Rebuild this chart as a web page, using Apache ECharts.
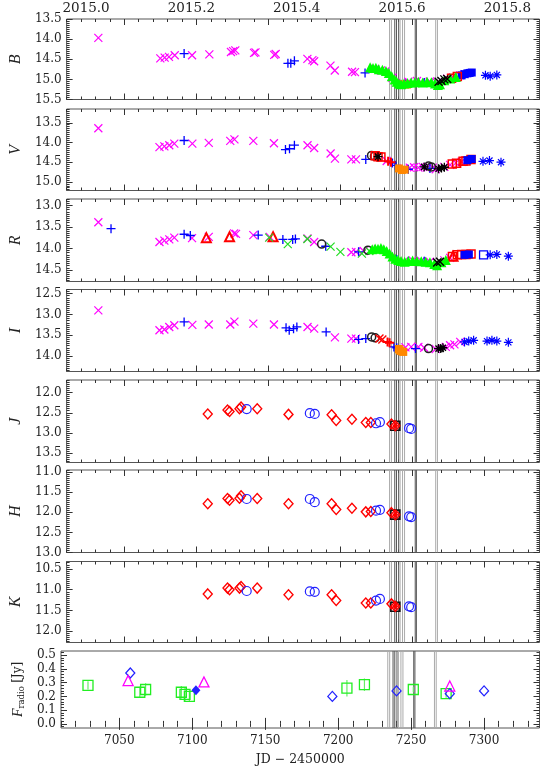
<!DOCTYPE html>
<html><head><meta charset="utf-8">
<script src="https://cdn.jsdelivr.net/npm/echarts@6/dist/echarts.min.js"></script>
<style>html,body{margin:0;padding:0;background:#fff}#c{width:545px;height:767px}</style>
</head><body><div id="c"></div>
<script>
// ---------------- tick labels ----------------
const jdTicks = [7050, 7100, 7150, 7200, 7250, 7300];
const yearTicks = [2015.0, 2015.2, 2015.4, 2015.6, 2015.8];
const bTicks = [13.5, 14.0, 14.5, 15.0, 15.5];
const vTicks = [13.5, 14.0, 14.5, 15.0];
const rTicks = [13.0, 13.5, 14.0, 14.5];
const iTicks = [12.5, 13.0, 13.5, 14.0];
const jTicks = [12.0, 12.5, 13.0, 13.5];
const hTicks = [11.0, 11.5, 12.0, 12.5, 13.0];
const kTicks = [10.5, 11.0, 11.5, 12.0];
const radioTicks = [0.0, 0.1, 0.2, 0.3, 0.4, 0.5];

// vertical marker lines: [JD, shade]  (0 = light grey, 1 = dark)
const vLines = [[7234.0,0],[7235.3,0],[7237.6,1],[7238.8,1],[7240.3,1],[7241.3,0],[7243.0,0],[7244.4,0],[7251.8,1],[7252.6,1],[7266.0,0],[7267.2,0]];

// ---------------- B ----------------
const bMagentaX = [[7032,13.97],[7075,14.48],[7078,14.46],[7081,14.44],[7085,14.40],[7097,14.40],[7109,14.38],[7124,14.32],[7125.5,14.30],[7127,14.28],[7140,14.34],[7141,14.33],[7154,14.39],[7155,14.37],[7177,14.49],[7180.5,14.52],[7181.7,14.55],[7193,14.66],[7196,14.78],[7208,14.81],[7210,14.82],
  [7224,14.74],[7228,14.78],[7231,14.80],[7236,14.96],[7243,15.08],[7247,15.06],[7253,15.04],[7256,15.07],[7262,15.05],[7267,15.09],[7274,14.98],[7278,14.95],[7283,14.90],[7286,14.87]];
const bBluePlus = [[7091.5,14.36],[7163.5,14.60],[7165.5,14.60],[7168,14.54],[7217,14.84],[7245,15.12],[7258,15.08]];
const bGreenTri = [[7220.5,14.70],[7222.5,14.72],[7224.5,14.71],[7226.5,14.75],[7229,14.76],[7231.5,14.79],[7233.5,14.84],[7235.5,14.92],[7237.5,15.00],[7239,15.06],[7240.5,15.10],[7242,15.12],[7244,15.10],[7246.5,15.09],[7249,15.08],[7251.5,15.07],[7254,15.06],[7257,15.08],[7260,15.06],[7263,15.07],[7265.5,15.10],[7267.5,15.14],[7269,15.12],[7272,15.02],[7276,14.98],[7280,14.94]];
const bBlueSq = [[7284,14.90],[7286,14.87],[7288,14.85],[7289.5,14.84],[7291,14.83]];
const bBlackX = [[7268,15.06],[7270,15.04],[7272,15.00],[7274,14.99]];
const bOrange = [[7241,15.12],[7246,15.13]];
const bRedSq = [[7277,14.97],[7281,14.93]];
const bBlueAst = [[7300.5,14.90],[7303.8,14.92],[7308.4,14.89]];

// ---------------- V ----------------
const vMagentaX = [[7032,13.64],[7074.4,14.12],[7077.8,14.10],[7081.2,14.07],[7084.7,14.03],[7097.2,14.03],[7108.6,14.01],[7123.5,13.96],[7126.4,13.92],[7139.5,13.96],[7153.8,14.02],[7177.1,14.07],[7181.7,14.14],[7193.1,14.28],[7196.1,14.41],[7207.5,14.43],[7210.7,14.43],
  [7232,14.47],[7244,14.66],[7248,14.64],[7251,14.63],[7254,14.64],[7257,14.62],[7260,14.63],[7264,14.64],[7266,14.68],[7272,14.62],[7276,14.57],[7280,14.52],[7284,14.49]];
const vBluePlus = [[7091.5,13.95],[7161.8,14.18],[7164.6,14.16],[7168,14.07],[7217.5,14.43],[7236,14.52],[7238,14.58],[7247,14.68],[7262,14.66]];
const vBlackCircle = [[7221.5,14.33],[7223.5,14.35],[7261,14.60],[7263,14.62]];
const vRedSq = [[7224,14.34],[7226,14.36],[7228,14.37],[7277.5,14.55],[7280.5,14.53],[7285,14.48],[7287,14.47],[7290.5,14.43]];
const vRedPlus = [[7233,14.48],[7235,14.50]];
const vOrange = [[7240.5,14.66],[7242.5,14.70],[7244.5,14.69]];
const vBlackAst = [[7226,14.36],[7258,14.62],[7268,14.67],[7270,14.65],[7272,14.63]];
const vBlueSq = [[7288,14.45],[7291,14.42]];
const vBlueAst = [[7298.8,14.48],[7303.3,14.46],[7311.3,14.50]];

// ---------------- R ----------------
const rMagentaX = [[7032,13.39],[7074.4,13.85],[7077.8,13.82],[7081.2,13.79],[7084.7,13.75],[7097,13.76],[7108.6,13.73],[7126.2,13.65],[7127.5,13.66],[7139.5,13.69],[7150.9,13.73],[7177.1,13.77],[7181.7,13.85],[7207.5,14.09],[7210.7,14.08],[7216,14.06],[7226,14.02],[7244,14.30],[7250,14.28],[7256,14.29],[7262,14.31],[7272,14.28],[7276,14.22]];
const rBluePlus = [[7040.8,13.54],[7091.5,13.67],[7095.8,13.70],[7142.9,13.69],[7160,13.79],[7166.8,13.79],[7168.7,13.78],[7189.7,13.95],[7212.5,14.08],[7239,14.26],[7247,14.30],[7258,14.30]];
const rRedTri = [[7106.9,13.75],[7123,13.73],[7153.2,13.73],[7278,14.18]];
const rGreenX = [[7150.5,13.75],[7163.4,13.90],[7177,13.78],[7193.1,13.96],[7199.9,14.08],[7214.8,14.12],[7220,14.06]];
const rBlackCircle = [[7186.9,13.90],[7219,14.04]];
const rGreenTri = [[7222,14.02],[7224,14.00],[7226,14.01],[7228,13.99],[7230,14.02],[7232,14.06],[7234,14.12],[7236,14.19],[7238,14.24],[7240,14.27],[7242,14.29],[7244.5,14.31],[7247,14.29],[7250,14.28],[7253,14.29],[7256,14.30],[7259,14.31],[7262,14.32],[7265,14.36],[7267,14.39],[7270,14.32],[7273,14.27]];
const rRedSq = [[7277.6,14.19],[7281,14.15],[7284,14.14],[7287,14.14],[7290.5,14.13]];
const rBlueSq = [[7286,14.15],[7289,14.14]];
const rBlueOpenSq = [[7299.2,14.15]];
const rBlackX = [[7267,14.33],[7269,14.31]];
const rBlueAst = [[7303.8,14.15],[7308.4,14.14],[7316.4,14.18]];

// ---------------- I ----------------
const iMagentaX = [[7032,12.90],[7074.4,13.38],[7077.8,13.36],[7081.2,13.30],[7084.7,13.26],[7097.2,13.25],[7108.6,13.24],[7123.5,13.24],[7126.4,13.17],[7139.5,13.22],[7153.8,13.24],[7177.1,13.30],[7181.7,13.34],[7196.1,13.55],[7207.5,13.58],[7210.7,13.58],[7245,13.79],[7249,13.78],[7254,13.78],[7258,13.80],[7266,13.83],[7273,13.78],[7276,13.74],[7279,13.72],[7283,13.66]];
const iBluePlus = [[7091.5,13.18],[7162.2,13.32],[7164.4,13.38],[7167.4,13.34],[7169.7,13.30],[7190,13.42],[7212.5,13.60],[7217.5,13.58],[7237,13.78],[7239,13.80],[7252,13.82]];
const iBlackCircle = [[7221.6,13.54],[7224,13.56],[7261,13.82]];
const iRedX = [[7227,13.58],[7229,13.60]];
const iRedPlus = [[7232.6,13.66],[7234,13.68]];
const iOrange = [[7240.5,13.83],[7241,13.86],[7242,13.88],[7243.5,13.90]];
const iBlackAst = [[7268,13.82],[7269.5,13.82],[7271,13.80]];
const iBlueAst = [[7286,13.66],[7288.9,13.64],[7292.3,13.62],[7301.6,13.64],[7305,13.62],[7308.4,13.64],[7316.4,13.67]];

// ---------------- J H K ----------------
const jRedDiamond = [[7107.9,12.53],[7121.6,12.43],[7123,12.47],[7129.9,12.40],[7131,12.36],[7142.2,12.40],[7163.9,12.54],[7193.8,12.55],[7197,12.69],[7207.9,12.66],[7217.5,12.74],[7221,12.74],[7235.3,12.78],[7238,12.82]];
const jBlueCircle = [[7134.9,12.41],[7178.7,12.51],[7182.1,12.53],[7224.6,12.76],[7227.3,12.73],[7247.5,12.88],[7249,12.90]];
const jBlackSq = [[7238,12.82]];
const hRedDiamond = [[7107.9,11.79],[7121.6,11.66],[7123,11.70],[7129.9,11.65],[7131,11.59],[7142.2,11.66],[7163.9,11.79],[7193.8,11.79],[7197,11.93],[7207.9,11.90],[7217.5,11.99],[7221,11.98],[7235.3,12.01],[7238,12.06]];
const hBlueCircle = [[7134.9,11.67],[7178.7,11.67],[7182.1,11.75],[7224.6,11.96],[7227.3,11.94],[7247.5,12.10],[7249,12.12]];
const hBlackSq = [[7238,12.06]];
const kRedDiamond = [[7107.9,11.10],[7121.6,10.96],[7123,11.00],[7129.9,10.96],[7131,10.92],[7142.2,10.96],[7163.9,11.12],[7193.8,11.12],[7197,11.26],[7217.5,11.32],[7221,11.32],[7235.3,11.34],[7238,11.40]];
const kBlueCircle = [[7134.9,11.03],[7178.7,11.04],[7182.1,11.05],[7224.6,11.26],[7227.3,11.22],[7247.5,11.40],[7249,11.42]];
const kBlackSq = [[7238,11.41]];

// ---------------- radio [JD, flux, err] ----------------
const radioGreenSq = [[7028.5,0.28,0.03],[7064,0.23,0.04],[7068,0.25,0.045],[7092.5,0.23,0.045],[7095,0.215,0.05],[7098,0.20,0.04],[7206,0.26,0.06],[7218,0.285,0.045],[7251.5,0.25,0.02],[7274,0.22,0.03]];
const radioBlueDiamond = [[7057.5,0.37],[7196,0.20],[7240,0.24],[7276.5,0.22],[7300,0.24]];
const radioBlueFilled = [[7102.5,0.245]];
const radioMagentaTri = [[7056,0.315],[7108,0.305],[7276.5,0.275]];

// ---------------- layout ----------------
const XMIN = 7010, XMAX = 7338;
const GL = 61, GR = 5.5;
const FONT = 'DejaVu Serif';
const PANELS = [
  {label:'B', top:19,    bottom:99.5,  min:13.5,  max:15.5,  inv:true,  ticks:bTicks, minor:0.05},
  {label:'V', top:109,   bottom:190.5, min:13.15, max:15.22, inv:true,  ticks:vTicks, minor:0.05},
  {label:'R', top:199,   bottom:281.5, min:12.85, max:14.77, inv:true,  ticks:rTicks, minor:0.05},
  {label:'I', top:289.5, bottom:371.5, min:12.4,  max:14.37, inv:true,  ticks:iTicks, minor:0.05},
  {label:'J', top:380,   bottom:462.5, min:11.69, max:13.73, inv:true,  ticks:jTicks, minor:0.05},
  {label:'H', top:470,   bottom:552.5, min:10.95, max:13.0,  inv:true,  ticks:hTicks, minor:0.05},
  {label:'K', top:561.5, bottom:642.5, min:10.32, max:12.27, inv:true,  ticks:kTicks, minor:0.05},
  {label:'radio', top:651, bottom:735, min:-0.03, max:0.53,  inv:false, ticks:radioTicks, minor:0.02}
];
function stepVals(a, b, s) {
  const out = [];
  for (let k = Math.ceil(a / s - 1e-9); k * s <= b + 1e-9; k++) out.push(Math.round(k * s * 1e6) / 1e6);
  return out;
}
const xMinor = stepVals(XMIN, XMAX, 10);
const TC = '#333';

const grids = [], xAxes = [], yAxes = [], series = [];
PANELS.forEach((p, i) => {
  grids.push({left:GL, right:GR, top:p.top, height:p.bottom - p.top, show:true, borderColor:'#555', borderWidth:1, backgroundColor:'transparent'});
  const last = i === PANELS.length - 1;
  const xb = {gridIndex:i, type:'value', min:XMIN, max:XMAX, axisLine:{show:false}, splitLine:{show:false}};
  xAxes.push(Object.assign({}, xb, {position:'bottom',
    axisTick:{inside:true, length:6, customValues:jdTicks, lineStyle:{color:TC}},
    axisLabel:{show:last, customValues:jdTicks, formatter:v => String(Math.round(v)), fontFamily:FONT, fontSize:12, color:'#222', margin:7},
    name: last ? 'JD \u2212 2450000' : '', nameLocation:'middle', nameGap:25,
    nameTextStyle:{fontFamily:FONT, fontSize:12.5, color:'#222'}}));
  xAxes.push(Object.assign({}, xb, {position:'bottom', axisTick:{inside:true, length:3, customValues:xMinor, lineStyle:{color:TC}}, axisLabel:{show:false}}));
  xAxes.push(Object.assign({}, xb, {position:'top', axisTick:{inside:true, length:6, customValues:jdTicks, lineStyle:{color:TC}}, axisLabel:{show:false}}));
  xAxes.push(Object.assign({}, xb, {position:'top', axisTick:{inside:true, length:3, customValues:xMinor, lineStyle:{color:TC}}, axisLabel:{show:false}}));

  const ym = stepVals(p.min, p.max, p.minor);
  const yb = {gridIndex:i, type:'value', min:p.min, max:p.max, inverse:p.inv, axisLine:{show:false}, splitLine:{show:false}};
  const isRadio = p.label === 'radio';
  yAxes.push(Object.assign({}, yb, {position:'left',
    axisTick:{inside:true, length:6, customValues:p.ticks, lineStyle:{color:TC}},
    axisLabel:{customValues:p.ticks, fontFamily:FONT, fontSize:12, color:'#222', margin:5, formatter:v => v.toFixed(1)},
    name: isRadio ? '{f|F}{s|radio} {n|[Jy]}' : p.label,
    nameLocation:'middle', nameRotate:90, nameGap: isRadio ? 32 : 42,
    nameTextStyle: isRadio ? {rich:{
        f:{fontFamily:'Liberation Serif', fontStyle:'italic', fontSize:14, color:'#222'},
        s:{fontFamily:FONT, fontSize:8.5, color:'#222', padding:[7,0,0,0]},
        n:{fontFamily:FONT, fontSize:12, color:'#222'}}}
      : {fontFamily:'Liberation Serif', fontStyle:'italic', fontSize:16, color:'#222'}}));
  yAxes.push(Object.assign({}, yb, {position:'left', axisTick:{inside:true, length:3, customValues:ym, lineStyle:{color:TC}}, axisLabel:{show:false}}));
  yAxes.push(Object.assign({}, yb, {position:'right', axisTick:{inside:true, length:6, customValues:p.ticks, lineStyle:{color:TC}}, axisLabel:{show:false}}));
  yAxes.push(Object.assign({}, yb, {position:'right', axisTick:{inside:true, length:3, customValues:ym, lineStyle:{color:TC}}, axisLabel:{show:false}}));

  // vertical marker lines
  series.push({type:'custom', xAxisIndex:i*4, yAxisIndex:i*4, data:vLines, silent:true, z:1, animation:false, clip:true,
    renderItem:(params, api) => {
      const x = api.coord([api.value(0), p.min])[0];
      const cs = params.coordSys;
      return {type:'line', shape:{x1:x, y1:cs.y, x2:x, y2:cs.y + cs.height},
        style:{stroke: api.value(1) ? '#555' : '#aaa', lineWidth:1}};
    }});
});

// year axis on top panel
const yr = jd => 2015 + (jd - 7023.5) / 365.25;
xAxes.push({gridIndex:0, type:'value', position:'top', min:yr(XMIN), max:yr(XMAX), axisLine:{show:false}, axisTick:{show:false}, splitLine:{show:false},
  axisLabel:{customValues:yearTicks, formatter:v => v.toFixed(1), fontFamily:FONT, fontSize:13.5, color:'#222', margin:11, verticalAlign:'middle'}});

// markers
const X_SYM = 'path://M0,0L10,10M0,10L10,0';
const P_SYM = 'path://M5,0L5,10M0,5L10,5';
const A_SYM = 'path://M5,0L5,10M0,5L10,5M1.6,1.6L8.4,8.4M1.6,8.4L8.4,1.6';
const MK = {
  magX:   {sym:X_SYM, c:'#ff00ff', s:8,  m:'line', w:1.2},
  greenX: {sym:X_SYM, c:'#22dd22', s:8,  m:'line', w:1.2},
  blackX: {sym:X_SYM, c:'#000',    s:8,  m:'line', w:1.4},
  redX:   {sym:X_SYM, c:'#ff0000', s:8,  m:'line', w:1.4},
  bluePlus:{sym:P_SYM, c:'#0000ff', s:9, m:'line', w:1.3},
  redPlus:{sym:P_SYM, c:'#ff0000', s:9,  m:'line', w:2},
  blueAst:{sym:A_SYM, c:'#0000ff', s:9,  m:'line', w:1.2},
  blackAst:{sym:A_SYM, c:'#000',   s:9,  m:'line', w:1.3},
  greenTri:{sym:'triangle', c:'#00ff00', s:10, m:'fill'},
  redTriOpen:{sym:'triangle', c:'#ff0000', s:9, m:'open', w:2},
  redSq:  {sym:'rect', c:'#ff0000', s:8, m:'open', w:1.5},
  blueSq: {sym:'rect', c:'#0000ff', s:8, m:'fill'},
  blueOpenSq:{sym:'rect', c:'#0000ff', s:8, m:'open', w:1.3},
  orange: {sym:'rect', c:'#ff8800', s:8, m:'fill'},
  blackCircle:{sym:'circle', c:'#222', s:8, m:'open', w:1.5},
  redDiamond:{sym:'diamond', c:'#ff0000', s:[9,10], m:'open', w:1.4},
  blueCircle:{sym:'circle', c:'#2222ff', s:9, m:'open', w:1.2},
  blackSq:{sym:'rect', c:'#111', s:9, m:'open', w:1.6},
  redDiamondFill:{sym:'diamond', c:'#ff0000', s:[6,7], m:'fill'},
  greenSqOpen:{sym:'rect', c:'#22ee22', s:10, m:'open', w:1.3},
  blueDiamondOpen:{sym:'diamond', c:'#2222ff', s:[9,10], m:'open', w:1.3},
  blueDiamondFill:{sym:'diamond', c:'#2222ff', s:[9,10], m:'fill'},
  magTriOpen:{sym:'triangle', c:'#ff00ff', s:10, m:'open', w:1.3}
};
function pts(p, data, mk, z) {
  series.push({type:'scatter', xAxisIndex:p*4, yAxisIndex:p*4, data:data, symbol:mk.sym, symbolSize:mk.s,
    z: z || 3, silent:true, animation:false,
    itemStyle: mk.m === 'fill' ? {color:mk.c, borderWidth:0, opacity:1}
                               : {color:'rgba(0,0,0,0)', borderColor:mk.c, borderWidth:mk.w || 1.2, opacity:1}});
}
// B
pts(0, bMagentaX, MK.magX); pts(0, bBluePlus, MK.bluePlus); pts(0, bGreenTri, MK.greenTri, 4);
pts(0, bBlueSq, MK.blueSq); pts(0, bBlackX, MK.blackX, 5); pts(0, bOrange, MK.orange); pts(0, bRedSq, MK.redSq); pts(0, bBlueAst, MK.blueAst);
// V
pts(1, vMagentaX, MK.magX); pts(1, vBluePlus, MK.bluePlus); pts(1, vBlackCircle, MK.blackCircle); pts(1, vRedSq, MK.redSq);
pts(1, vRedPlus, MK.redPlus); pts(1, vOrange, MK.orange); pts(1, vBlackAst, MK.blackAst, 5); pts(1, vBlueSq, MK.blueSq); pts(1, vBlueAst, MK.blueAst);
// R
pts(2, rMagentaX, MK.magX); pts(2, rBluePlus, MK.bluePlus); pts(2, rRedTri, MK.redTriOpen); pts(2, rGreenX, MK.greenX);
pts(2, rBlackCircle, MK.blackCircle); pts(2, rGreenTri, MK.greenTri, 4); pts(2, rRedSq, MK.redSq); pts(2, rBlueSq, MK.blueSq);
pts(2, rBlueOpenSq, MK.blueOpenSq); pts(2, rBlackX, MK.blackX, 5); pts(2, rBlueAst, MK.blueAst);
// I
pts(3, iMagentaX, MK.magX); pts(3, iBluePlus, MK.bluePlus); pts(3, iBlackCircle, MK.blackCircle); pts(3, iRedX, MK.redX);
pts(3, iRedPlus, MK.redPlus); pts(3, iOrange, MK.orange); pts(3, iBlackAst, MK.blackAst, 5); pts(3, iBlueAst, MK.blueAst);
// J H K
pts(4, jRedDiamond, MK.redDiamond); pts(4, jBlueCircle, MK.blueCircle); pts(4, jBlackSq, MK.blackSq, 2); pts(4, [jRedDiamond[13]], MK.redDiamondFill, 4);
pts(5, hRedDiamond, MK.redDiamond); pts(5, hBlueCircle, MK.blueCircle); pts(5, hBlackSq, MK.blackSq, 2); pts(5, [hRedDiamond[13]], MK.redDiamondFill, 4);
pts(6, kRedDiamond, MK.redDiamond); pts(6, kBlueCircle, MK.blueCircle); pts(6, kBlackSq, MK.blackSq, 2); pts(6, [kRedDiamond[12]], MK.redDiamondFill, 4);
// radio
series.push({type:'custom', xAxisIndex:28, yAxisIndex:28, data:radioGreenSq, silent:true, z:2, animation:false,
  renderItem:(params, api) => {
    const a = api.coord([api.value(0), api.value(1) - api.value(2)]);
    const b = api.coord([api.value(0), api.value(1) + api.value(2)]);
    return {type:'line', shape:{x1:a[0], y1:a[1], x2:b[0], y2:b[1]}, style:{stroke:'#66ee66', lineWidth:1.2}};
  }});
pts(7, radioGreenSq, MK.greenSqOpen); pts(7, radioBlueDiamond, MK.blueDiamondOpen); pts(7, radioBlueFilled, MK.blueDiamondFill);
pts(7, radioMagentaTri, MK.magTriOpen);

const chart = echarts.init(document.getElementById('c'), null, {renderer:'canvas'});
chart.setOption({animation:false, backgroundColor:'#fff', grid:grids, xAxis:xAxes, yAxis:yAxes, series:series});
</script></body></html>
